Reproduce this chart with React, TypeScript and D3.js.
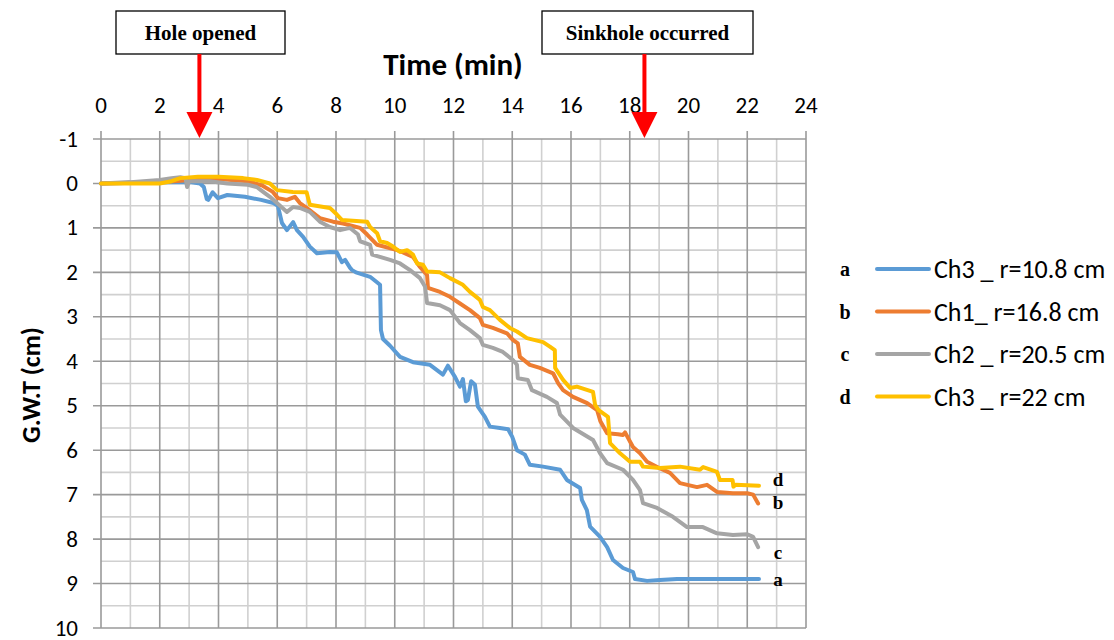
import React from "react";
import * as d3 from "d3";

// Time axis (min) and groundwater-table depth (cm)
const xTicks = [0, 2, 4, 6, 8, 10, 12, 14, 16, 18, 20, 22, 24];
const yTicks = [-1, 0, 1, 2, 3, 4, 5, 6, 7, 8, 9, 10];

// Series a: Ch3, r = 10.8 cm
const aTime = [0, 1.67, 3.03, 3.37, 3.5, 3.6, 3.65, 3.8, 3.98, 4.3, 4.9, 5.45, 5.87, 6.02, 6.16, 6.33, 6.54, 6.67, 6.88, 7.11, 7.35, 7.79, 8.03, 8.2, 8.31, 8.48, 8.55, 8.68, 9.16, 9.5, 9.53, 9.6, 9.84, 10.18, 10.62, 11.2, 11.64, 11.81, 12.05, 12.22, 12.32, 12.42, 12.49, 12.6, 12.73, 12.83, 13.07, 13.24, 13.58, 13.86, 14.0, 14.16, 14.43, 14.6, 15.05, 15.63, 15.86, 16.31, 16.37, 16.54, 16.65, 16.99, 17.23, 17.43, 17.77, 18.11, 18.18, 18.59, 19.03, 19.61, 20.49, 21.41, 22.4];
const aDepth = [0, -0.02, -0.03, 0, 0.08, 0.35, 0.37, 0.2, 0.33, 0.26, 0.3, 0.37, 0.44, 0.5, 0.89, 1.05, 0.87, 1.05, 1.2, 1.42, 1.57, 1.54, 1.55, 1.77, 1.72, 1.9, 1.95, 2.0, 2.1, 2.28, 3.3, 3.5, 3.65, 3.9, 4.02, 4.08, 4.3, 4.1, 4.35, 4.57, 4.4, 4.9, 4.87, 4.45, 4.53, 5.02, 5.25, 5.47, 5.5, 5.53, 5.7, 6.0, 6.1, 6.33, 6.37, 6.44, 6.67, 6.85, 7.12, 7.35, 7.72, 7.95, 8.18, 8.47, 8.65, 8.74, 8.9, 8.94, 8.92, 8.9, 8.9, 8.9, 8.9];

// Series b: Ch1, r = 16.8 cm
const bTime = [0, 1.5, 2.5, 3.0, 4.0, 5.0, 5.5, 5.85, 6.02, 6.33, 6.6, 6.77, 7.0, 7.45, 7.9, 8.24, 8.82, 9.06, 9.4, 10.08, 10.28, 10.62, 10.86, 11.1, 11.13, 11.54, 11.88, 12.22, 12.56, 12.9, 13.0, 13.34, 13.82, 14.02, 14.19, 14.26, 14.6, 14.94, 15.39, 15.56, 15.73, 16.07, 16.55, 16.89, 17.0, 17.23, 17.6, 17.77, 17.84, 18.11, 18.35, 18.59, 19.0, 19.37, 19.71, 20.29, 20.63, 20.97, 21.51, 22.0, 22.2, 22.37];
const bDepth = [0, -0.02, -0.05, -0.08, -0.1, -0.05, 0.05, 0.19, 0.33, 0.37, 0.3, 0.44, 0.55, 0.78, 0.86, 0.9, 1.0, 1.15, 1.38, 1.5, 1.55, 1.65, 1.88, 2.06, 2.35, 2.44, 2.55, 2.7, 2.85, 3.03, 3.18, 3.25, 3.37, 3.52, 3.6, 3.9, 4.08, 4.15, 4.27, 4.49, 4.65, 4.8, 4.94, 5.1, 5.35, 5.62, 5.64, 5.66, 5.6, 5.93, 6.07, 6.26, 6.4, 6.51, 6.74, 6.83, 6.78, 6.94, 6.97, 6.97, 7.0, 7.2];

// Series c: Ch2, r = 20.5 cm
const cTime = [0, 1.0, 2.0, 2.4, 2.7, 2.88, 2.93, 3.0, 3.7, 4.3, 5.0, 5.3, 5.52, 5.75, 5.99, 6.33, 6.54, 6.77, 7.11, 7.45, 7.79, 8.14, 8.48, 8.75, 8.82, 9.16, 9.23, 9.84, 10.18, 10.52, 10.86, 11.03, 11.1, 11.54, 11.88, 12.22, 12.56, 12.9, 13.0, 13.34, 13.68, 14.02, 14.16, 14.19, 14.53, 14.67, 15.18, 15.52, 15.63, 16.07, 16.75, 16.99, 17.23, 17.77, 18.11, 18.35, 18.45, 18.93, 19.47, 19.95, 20.49, 20.97, 21.51, 22.0, 22.2, 22.37];
const cDepth = [0, -0.03, -0.08, -0.12, -0.14, -0.12, 0.08, -0.05, -0.05, 0.0, 0.03, 0.08, 0.19, 0.3, 0.44, 0.64, 0.53, 0.55, 0.64, 0.86, 0.98, 1.05, 1.0, 1.15, 1.3, 1.38, 1.6, 1.72, 1.8, 1.95, 2.13, 2.32, 2.69, 2.74, 2.85, 3.14, 3.3, 3.48, 3.63, 3.7, 3.79, 3.97, 4.08, 4.38, 4.42, 4.65, 4.8, 4.94, 5.2, 5.5, 5.77, 6.07, 6.29, 6.44, 6.67, 6.9, 7.19, 7.3, 7.5, 7.73, 7.73, 7.87, 7.91, 7.89, 7.95, 8.18];

// Series d: Ch3, r = 22 cm
const dTime = [0, 2.0, 2.4, 2.7, 3.3, 4.0, 4.84, 5.31, 5.75, 5.99, 6.53, 7.0, 7.05, 7.11, 7.79, 8.03, 8.2, 9.06, 9.16, 9.4, 9.5, 9.74, 9.94, 10.18, 10.42, 10.62, 10.76, 10.96, 11.1, 11.54, 11.88, 12.32, 12.56, 12.9, 13.0, 13.24, 13.58, 13.92, 14.16, 14.5, 15.05, 15.28, 15.45, 15.46, 15.73, 15.97, 16.2, 16.75, 16.82, 16.94, 17.26, 17.33, 17.67, 18.01, 18.35, 18.45, 19.03, 19.71, 20.39, 20.5, 20.97, 21.07, 21.5, 21.53, 21.6, 22.4];
const dDepth = [0, 0, -0.05, -0.12, -0.15, -0.15, -0.12, -0.08, 0.0, 0.15, 0.19, 0.2, 0.33, 0.48, 0.55, 0.7, 0.82, 0.86, 0.98, 1.12, 1.3, 1.34, 1.42, 1.54, 1.5, 1.6, 1.8, 1.83, 1.98, 2.0, 2.13, 2.28, 2.44, 2.62, 2.78, 2.85, 3.07, 3.25, 3.33, 3.48, 3.57, 3.67, 3.75, 4.15, 4.42, 4.6, 4.57, 4.69, 4.98, 5.1, 5.25, 5.84, 6.07, 6.26, 6.26, 6.37, 6.4, 6.37, 6.44, 6.38, 6.49, 6.67, 6.67, 6.82, 6.78, 6.8];

const seriesKeys = ["a", "b", "c", "d"];
const seriesNames = ["Ch3 _ r=10.8 cm", "Ch1_ r=16.8 cm", "Ch2 _ r=20.5 cm", "Ch3 _ r=22 cm"];
const seriesColors = ["#5B9BD5", "#ED7D31", "#A5A5A5", "#FFC000"];
const seriesTimes = [aTime, bTime, cTime, dTime];
const seriesDepths = [aDepth, bDepth, cDepth, dDepth];

// Event markers
const eventLabels = ["Hole opened", "Sinkhole occurred"];
const eventTimes = [3.35, 18.5];

const W = 1114;
const H = 640;
const plot = { left: 101, right: 806, top: 139, bottom: 628 };

export default function App() {
  const x = d3.scaleLinear().domain([0, 24]).range([plot.left, plot.right]);
  const y = d3.scaleLinear().domain([-1, 10]).range([plot.top, plot.bottom]);

  const line = d3
    .line<[number, number]>()
    .x((p) => x(p[0]))
    .y((p) => y(p[1]));

  const minorX = d3.range(1, 24, 2);
  const minorY = d3.range(-0.5, 10, 1);

  const sans = "Carlito, Lato, 'Liberation Sans', sans-serif";
  const serif = "'Liberation Serif', 'DejaVu Serif', serif";

  // end-of-curve labels placed beside the last points
  const endLabelPos = [
    { k: "d", v: 6.68 },
    { k: "b", v: 7.18 },
    { k: "c", v: 8.32 },
    { k: "a", v: 8.93 },
  ];

  const boxes = [
    { x0: 116, x1: 285 },
    { x0: 542, x1: 753 },
  ];

  return (
    <svg
      width={W}
      height={H}
      style={{ position: "absolute", left: 0, top: 0, background: "#fff" }}
    >
      {/* minor grid */}
      <g stroke="#D0D0D0" strokeWidth={1.6}>
        {minorX.map((t) => (
          <line key={"mx" + t} x1={x(t)} x2={x(t)} y1={plot.top} y2={plot.bottom} />
        ))}
        {minorY.map((v) => (
          <line key={"my" + v} x1={plot.left} x2={plot.right} y1={y(v)} y2={y(v)} />
        ))}
      </g>
      {/* major grid with outward ticks */}
      <g stroke="#9A9A9A" strokeWidth={1.6}>
        {xTicks.map((t) => (
          <line key={"gx" + t} x1={x(t)} x2={x(t)} y1={plot.top - 8} y2={plot.bottom} />
        ))}
        {yTicks.map((v) => (
          <line key={"gy" + v} x1={plot.left - 8} x2={plot.right} y1={y(v)} y2={y(v)} />
        ))}
      </g>

      {/* tick labels */}
      <g fontFamily={sans} fontSize={23} fill="#000">
        {xTicks.map((t) => (
          <text key={"tx" + t} x={x(t)} y={113} textAnchor="middle">
            {t}
          </text>
        ))}
        {yTicks.map((v) => (
          <text key={"ty" + v} x={78} y={y(v) + 7.5} textAnchor="end">
            {v}
          </text>
        ))}
      </g>

      {/* axis titles */}
      <text x={453} y={75} textAnchor="middle" fontFamily={sans} fontWeight="bold" fontSize={31}>
        Time (min)
      </text>
      <text
        transform={`translate(40,385) rotate(-90)`}
        textAnchor="middle"
        fontFamily={sans}
        fontWeight="bold"
        fontSize={26}
      >
        G.W.T (cm)
      </text>

      {/* series */}
      <g fill="none" strokeWidth={4} strokeLinejoin="round" strokeLinecap="round">
        {seriesKeys.map((k, i) => {
          const pts = seriesTimes[i].map((t, j) => [t, seriesDepths[i][j]] as [number, number]);
          return <path key={k} d={line(pts) || ""} stroke={seriesColors[i]} />;
        })}
      </g>

      {/* series end labels */}
      <g fontFamily={serif} fontWeight="bold" fontSize={19}>
        {endLabelPos.map((p) => (
          <text key={"el" + p.k} x={778} y={y(p.v) + 6} textAnchor="middle">
            {p.k}
          </text>
        ))}
      </g>

      {/* event annotations */}
      {eventLabels.map((lbl, i) => {
        const ax = x(eventTimes[i]);
        const b = boxes[i];
        return (
          <g key={lbl}>
            <rect x={b.x0} y={11} width={b.x1 - b.x0} height={43} fill="#fff" stroke="#000" strokeWidth={1.3} />
            <text
              x={(b.x0 + b.x1) / 2}
              y={40}
              textAnchor="middle"
              fontFamily={serif}
              fontWeight="bold"
              fontSize={21}
            >
              {lbl}
            </text>
            <line x1={ax} x2={ax} y1={54} y2={120} stroke="#FF0000" strokeWidth={4} />
            <path
              d={`M${ax - 13},${112} L${ax + 13},${112} L${ax},${138} Z`}
              fill="#FF0000"
            />
          </g>
        );
      })}

      {/* legend */}
      <g>
        {seriesKeys.map((k, i) => {
          const ly = 269 + i * 42.5;
          return (
            <g key={"lg" + k}>
              <text x={845} y={ly + 7} textAnchor="middle" fontFamily={serif} fontWeight="bold" fontSize={20}>
                {k}
              </text>
              <line x1={877} x2={929} y1={ly} y2={ly} stroke={seriesColors[i]} strokeWidth={4} strokeLinecap="round" />
              <text x={934} y={ly + 9} fontFamily={sans} fontSize={26}>
                {seriesNames[i]}
              </text>
            </g>
          );
        })}
      </g>
    </svg>
  );
}
